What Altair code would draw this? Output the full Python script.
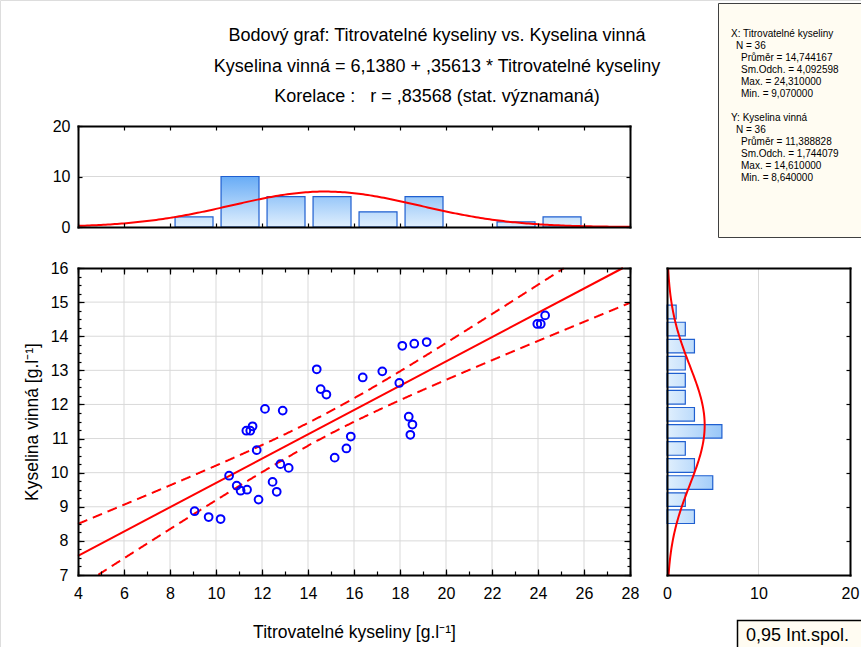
import numpy as np
import pandas as pd
import altair as alt

FONT = "Liberation Sans"

# ---- measurements: Titrovatelné kyseliny (x) and Kyselina vinná (y), g/l ----
titr_kys = [9.07, 9.68, 10.20, 10.57, 10.90, 11.07, 11.35, 11.85, 11.77, 11.32,
            11.49, 11.59, 12.13, 12.90, 12.46, 12.64, 12.80, 13.16, 14.38, 14.55,
            14.80, 15.16, 15.67, 15.86, 16.38, 17.23, 17.97, 18.10, 18.62, 19.16,
            18.38, 18.54, 18.45, 23.97, 24.12, 24.31]
kys_vinna = [8.87, 8.70, 8.64, 9.91, 9.62, 9.47, 9.50, 9.21, 10.66, 11.23,
             11.23, 11.36, 11.87, 11.82, 9.73, 9.44, 10.25, 10.14, 13.03, 12.45,
             12.29, 10.44, 10.71, 11.06, 12.79, 12.97, 12.63, 13.72, 13.78, 13.83,
             11.64, 11.41, 11.11, 14.36, 14.36, 14.61]

# ---- frequency tables of the marginal histograms ----
hx_start = [8, 10, 12, 14, 16, 18, 20, 22, 24]            # bins of width 2
hx_count = [2, 10, 6, 6, 3, 6, 0, 1, 2]
hy_start = [8.46, 8.96, 9.46, 9.96, 10.46, 10.96, 11.46,
            11.96, 12.46, 12.96, 13.46, 13.96, 14.46]      # bins of width 0.5
hy_count = [3, 2, 5, 3, 2, 6, 3, 2, 2, 2, 3, 2, 1]
HX_WIDTH, HY_WIDTH = 2.0, 0.5

# ---- descriptive statistics and the regression fit ----
N = 36
MEAN_X, SD_X, MAX_X, MIN_X = 14.744167, 4.092598, 24.310000, 9.070000
MEAN_Y, SD_Y, MAX_Y, MIN_Y = 11.388828, 1.744079, 14.610000, 8.640000
INTERCEPT, SLOPE, R = 6.1380, 0.35613, 0.83568
T_975 = 2.0322          # Student t quantile, 34 degrees of freedom

# ---- axis domains and tick values ----
X_DOMAIN, Y_DOMAIN, COUNT_DOMAIN = [4, 28], [7, 16], [0, 20]
x_labels = [4, 6, 8, 10, 12, 14, 16, 18, 20, 22, 24, 26, 28]
y_labels = [7, 8, 9, 10, 11, 12, 13, 14, 15, 16]
count_labels = [0, 10, 20]
x_minor = [float(v) for v in np.arange(4, 28.01, 1.0)]
y_minor = [float(v) for v in np.arange(7, 16.01, 0.25)]

# ---- page layout (pixels) ----
W, H = 861, 647
PLOT_L, PLOT_R, PLOT_T, PLOT_B = 78, 630, 268, 575
TOP_T, TOP_B = 126, 227
SIDE_L, SIDE_R = 667, 850

GRID = "#d9d9d9"
RED = "#ff0000"
BLUE = "#0000ff"
BAR_EDGE = "#1f5fd0"
PAPER = "#fffcf2"
LIGHT = (224, 239, 253)
DARK = (104, 172, 246)


def cz(v, d=6):
    return f"{v:.{d}f}".replace(".", ",")


def mix(t):
    r, g, b = [round(lo + (hi - lo) * t) for lo, hi in zip(LIGHT, DARK)]
    return f"#{r:02x}{g:02x}{b:02x}"


def gradient(count, horizontal):
    coords = dict(x1=0, y1=0, x2=1, y2=0) if horizontal else dict(x1=0, y1=1, x2=0, y2=0)
    return dict(gradient="linear",
                stops=[dict(offset=0, color=mix(0)), dict(offset=1, color=mix(min(count / 10, 1)))],
                **coords)


def lin(domain, rng):
    return alt.Scale(domain=domain, range=rng, nice=False, zero=False)


SX = lin(X_DOMAIN, [PLOT_L, PLOT_R])
SY = lin(Y_DOMAIN, [PLOT_B, PLOT_T])
SY_TOP = lin(COUNT_DOMAIN, [TOP_B, TOP_T])
SX_SIDE = lin(COUNT_DOMAIN, [SIDE_L, SIDE_R])


def edge_axis(orient, offset, values=None, size=4, domain=True):
    """Frame line of a panel with inward pointing ticks."""
    kw = dict(orient=orient, offset=offset, labels=False, title=None, grid=False,
              domain=domain, zindex=3)
    if domain:
        kw.update(domainColor="black", domainWidth=2, domainCap="square")
    if values:
        kw.update(values=[float(v) for v in values], ticks=True, tickColor="black",
                  tickWidth=1.2, tickSize=size)
    else:
        kw.update(ticks=False)
    return alt.Axis(**kw)


def label_axis(orient, offset, values, title=None, pad=9, title_pad=10):
    return alt.Axis(orient=orient, offset=offset, values=values, ticks=False, domain=False,
                    grid=False, format="d", labelFont=FONT, labelFontSize=16,
                    labelColor="black", labelPadding=pad, labelFlush=False,
                    labelOverlap=False, title=title, titleFont=FONT, titleFontSize=17.5,
                    titleFontWeight="normal", titleColor="black", titlePadding=title_pad,
                    zindex=3)


layers = []

# ================= main scatter panel =================
vgrid = pd.DataFrame({"v": x_labels[1:-1]}).assign(lo=Y_DOMAIN[0], hi=Y_DOMAIN[1])
hgrid = pd.DataFrame({"v": y_labels[1:-1]}).assign(lo=X_DOMAIN[0], hi=X_DOMAIN[1])

layers.append(alt.Chart(vgrid).mark_rule(color=GRID, strokeWidth=1).encode(
    x=alt.X("v:Q", scale=SX, axis=label_axis("bottom", PLOT_B - H, x_labels,
                                             title="Titrovatelné kyseliny  [g.l⁻¹]",
                                             pad=10, title_pad=22)),
    y=alt.Y("lo:Q", scale=SY, axis=label_axis("left", -PLOT_L, y_labels,
                                              title="Kyselina vinná [g.l⁻¹]",
                                              pad=10, title_pad=9)),
    y2=alt.Y2("hi:Q")))

layers.append(alt.Chart(hgrid).mark_rule(color=GRID, strokeWidth=1).encode(
    y=alt.Y("v:Q", scale=SY, axis=edge_axis("right", PLOT_L - W, y_minor, 3)),
    x=alt.X("lo:Q", scale=SX, axis=edge_axis("bottom", PLOT_T - H, x_minor, 4)),
    x2=alt.X2("hi:Q")))

# 95% confidence band of the regression line
s_res = SD_Y * np.sqrt((1 - R ** 2) * (N - 1) / (N - 2))
sxx = (N - 1) * SD_X ** 2
xg = np.linspace(X_DOMAIN[0], X_DOMAIN[1], 1201)
yhat = INTERCEPT + SLOPE * xg
half = T_975 * s_res * np.sqrt(1 / N + (xg - MEAN_X) ** 2 / sxx)
band = pd.concat([pd.DataFrame({"x": xg, "y": yhat + half, "side": "upper"}),
                  pd.DataFrame({"x": xg, "y": yhat - half, "side": "lower"})])
band = band[(band.y >= Y_DOMAIN[0]) & (band.y <= Y_DOMAIN[1])]

layers.append(alt.Chart(band).mark_line(color=RED, strokeWidth=2, strokeDash=[10, 6]).encode(
    x=alt.X("x:Q", scale=SX, axis=edge_axis("bottom", PLOT_T - H, x_labels, 6, domain=False)),
    y=alt.Y("y:Q", scale=SY, axis=edge_axis("right", PLOT_L - W, y_labels, 6, domain=False)),
    detail="side:N", order="x:Q"))

# regression line
x_end = min(X_DOMAIN[1], (Y_DOMAIN[1] - INTERCEPT) / SLOPE)
fit = pd.DataFrame({"x": [X_DOMAIN[0], x_end]})
fit["y"] = INTERCEPT + SLOPE * fit["x"]
layers.append(alt.Chart(fit).mark_line(color=RED, strokeWidth=2).encode(
    x=alt.X("x:Q", scale=SX, axis=edge_axis("top", -PLOT_B, x_minor, 4)),
    y=alt.Y("y:Q", scale=SY, axis=edge_axis("left", -PLOT_R, y_minor, 3))))

pts = pd.DataFrame({"x": titr_kys, "y": kys_vinna})
layers.append(alt.Chart(pts).mark_point(shape="circle", filled=False, color=BLUE, size=60,
                                         strokeWidth=2, opacity=1).encode(
    x=alt.X("x:Q", scale=SX, axis=edge_axis("top", -PLOT_B, x_labels, 6, domain=False)),
    y=alt.Y("y:Q", scale=SY, axis=edge_axis("left", -PLOT_R, y_labels, 6, domain=False))))

# ================= histogram of Titrovatelné kyseliny (top) =================
tgrid = pd.DataFrame({"v": [10]}).assign(lo=X_DOMAIN[0], hi=X_DOMAIN[1])
layers.append(alt.Chart(tgrid).mark_rule(color=GRID, strokeWidth=1).encode(
    y=alt.Y("v:Q", scale=SY_TOP, axis=label_axis("left", -PLOT_L, count_labels, pad=8)),
    x=alt.X("lo:Q", scale=SX, axis=edge_axis("bottom", TOP_T - H, x_labels, 4)),
    x2=alt.X2("hi:Q")))

hx = pd.DataFrame({"start": hx_start, "count": hx_count, "zero": 0})
hx = hx[hx["count"] > 0]
for i, c in enumerate(sorted(hx["count"].unique())):
    first = i == 0
    layers.append(alt.Chart(hx[hx["count"] == c]).transform_calculate(
        a="datum.start + 0.22", b=f"datum.start + {HX_WIDTH} - 0.13"
    ).mark_rect(fill=gradient(c, False), stroke=BAR_EDGE, strokeWidth=1.2).encode(
        x=alt.X("a:Q", scale=SX,
                axis=edge_axis("top", -TOP_B, x_labels, 4) if first else None),
        x2=alt.X2("b:Q"),
        y=alt.Y("count:Q", scale=SY_TOP,
                axis=edge_axis("right", PLOT_L - W, count_labels, 4) if first else None),
        y2=alt.Y2("zero:Q")))

xn = np.linspace(X_DOMAIN[0], X_DOMAIN[1], 241)
top_curve = pd.DataFrame({
    "x": xn,
    "n": N * HX_WIDTH * np.exp(-0.5 * ((xn - MEAN_X) / SD_X) ** 2) / (SD_X * np.sqrt(2 * np.pi))})
layers.append(alt.Chart(top_curve).mark_line(color=RED, strokeWidth=2).encode(
    x=alt.X("x:Q", scale=SX, axis=None),
    y=alt.Y("n:Q", scale=SY_TOP, axis=edge_axis("left", -PLOT_R, count_labels, 4))))

# ================= histogram of Kyselina vinná (right) =================
sgrid = pd.DataFrame({"v": [10]}).assign(lo=Y_DOMAIN[0], hi=Y_DOMAIN[1])
layers.append(alt.Chart(sgrid).mark_rule(color=GRID, strokeWidth=1).encode(
    x=alt.X("v:Q", scale=SX_SIDE, axis=label_axis("bottom", PLOT_B - H, count_labels, pad=10)),
    y=alt.Y("lo:Q", scale=SY, axis=edge_axis("right", SIDE_L - W)),
    y2=alt.Y2("hi:Q")))

hy = pd.DataFrame({"start": hy_start, "count": hy_count, "zero": 0})
for i, c in enumerate(sorted(hy["count"].unique())):
    first = i == 0
    layers.append(alt.Chart(hy[hy["count"] == c]).transform_calculate(
        a="datum.start + 0.05", b=f"datum.start + {HY_WIDTH} - 0.05"
    ).mark_rect(fill=gradient(c, True), stroke=BAR_EDGE, strokeWidth=1.2).encode(
        x=alt.X("zero:Q", scale=SX_SIDE,
                axis=edge_axis("top", -PLOT_B) if first else None),
        x2=alt.X2("count:Q"),
        y=alt.Y("a:Q", scale=SY,
                axis=edge_axis("left", -SIDE_R, y_labels[1:-1], 4) if first else None),
        y2=alt.Y2("b:Q")))

yn = np.linspace(Y_DOMAIN[0], Y_DOMAIN[1], 181)
side_curve = pd.DataFrame({
    "y": yn,
    "n": N * HY_WIDTH * np.exp(-0.5 * ((yn - MEAN_Y) / SD_Y) ** 2) / (SD_Y * np.sqrt(2 * np.pi))})
layers.append(alt.Chart(side_curve).mark_line(color=RED, strokeWidth=2).encode(
    x=alt.X("n:Q", scale=SX_SIDE, axis=edge_axis("bottom", PLOT_T - H)),
    y=alt.Y("y:Q", scale=SY, axis=None),
    order="y:Q"))

# ================= titles and text boxes =================
one = pd.DataFrame({"k": [0]})
title_lines = [
    "Bodový graf: Titrovatelné kyseliny vs. Kyselina vinná",
    f"Kyselina vinná = {cz(INTERCEPT, 4)} + {cz(SLOPE, 5).lstrip('0')} * Titrovatelné kyseliny",
    f"Korelace :\u00a0\u00a0\u00a0r = {cz(R, 5).lstrip('0')} (stat. významaná)",
]
for txt, ty in zip(title_lines, [36, 67, 97]):
    layers.append(alt.Chart(one).mark_text(
        text=txt, font=FONT, fontSize=18, color="black", align="center", baseline="middle"
    ).encode(x=alt.value(437), y=alt.value(ty)))

# descriptive statistics box
layers.append(alt.Chart(one).mark_rect(fill=PAPER, stroke="#404040", strokeWidth=1).encode(
    x=alt.value(718.5), x2=alt.value(880), y=alt.value(3.5), y2=alt.value(237.5)))

LINE_H = 12.1
stat_blocks = [
    ("X: Titrovatelné kyseliny", [MEAN_X, SD_X, MAX_X, MIN_X], 33),
    ("Y: Kyselina vinná", [MEAN_Y, SD_Y, MAX_Y, MIN_Y], 117),
]
stat_names = ["Průměr", "Sm.Odch.", "Max.", "Min."]
for header, vals, y0 in stat_blocks:
    rows = [f"{name} = {cz(v)}" for name, v in zip(stat_names, vals)]
    for txt, tx, ty in [(header, 731, y0), (f"N = {N}", 736, y0 + LINE_H),
                        ("\n".join(rows), 741, y0 + 2 * LINE_H)]:
        layers.append(alt.Chart(one).mark_text(
            text=txt, lineBreak="\n", lineHeight=LINE_H, font=FONT, fontSize=10,
            color="black", align="left", baseline="alphabetic"
        ).encode(x=alt.value(tx), y=alt.value(ty + 3.5)))

# legend box
layers.append(alt.Chart(one).mark_rect(fill=PAPER, stroke="black", strokeWidth=1.5).encode(
    x=alt.value(737.5), x2=alt.value(880), y=alt.value(620.5), y2=alt.value(660)))
layers.append(alt.Chart(one).mark_text(
    text="0,95 Int.spol.", font=FONT, fontSize=18, color="black", align="left",
    baseline="middle"
).encode(x=alt.value(746), y=alt.value(636)))

chart = (
    alt.layer(*layers)
    .properties(width=W, height=H, padding=0, autosize=alt.AutoSizeParams(type="none"))
    .resolve_scale(x="independent", y="independent")
    .resolve_axis(x="independent", y="independent")
    .configure_view(stroke=None)
    .configure(background="white", font=FONT)
)

chart.save("out.html", embed_options={"renderer": "svg", "actions": False})
